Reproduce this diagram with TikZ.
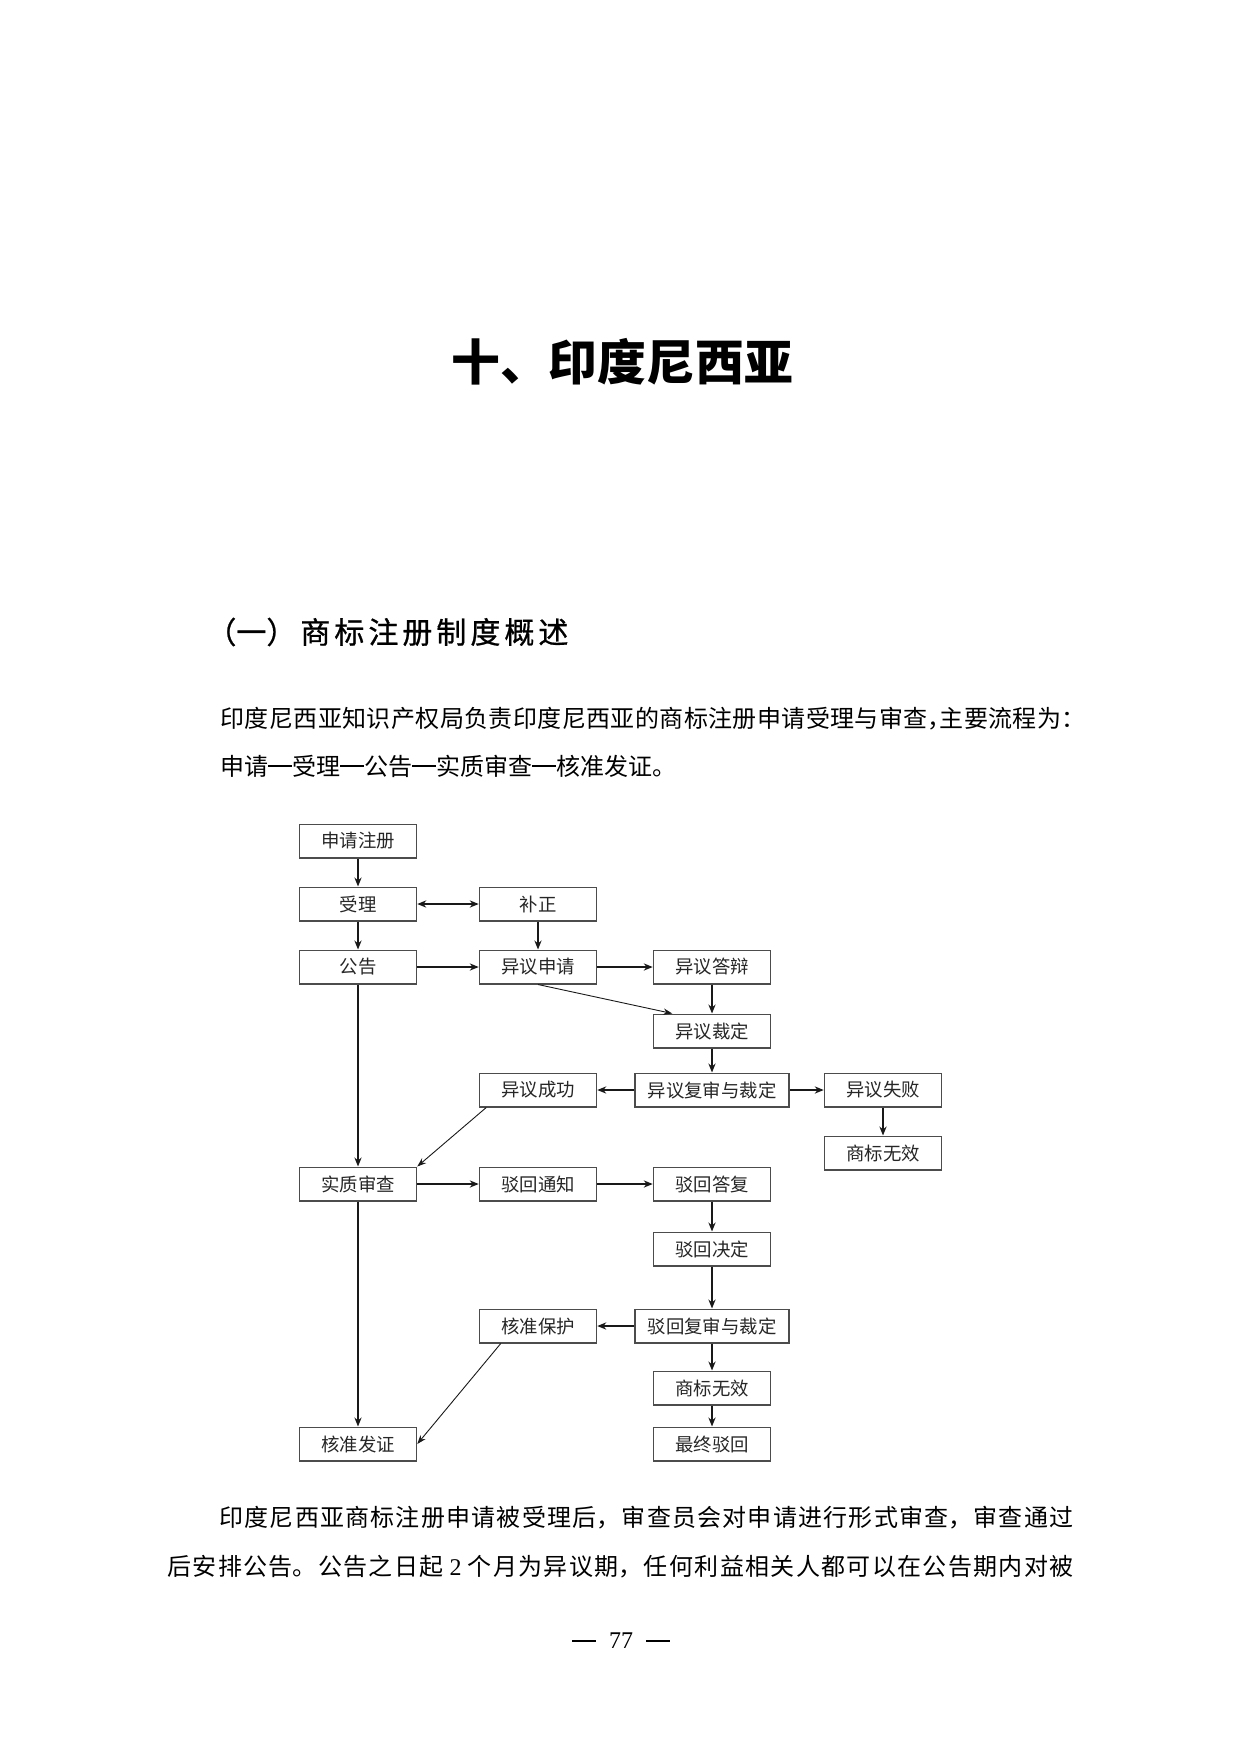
\documentclass[tikz,border=0pt]{standalone}
\usepackage{fontspec}
\setmainfont{Liberation Serif}
\newfontfamily\cjk{Noto Sans CJK SC}
\newfontfamily\headfont[FakeBold=0.8]{Noto Sans CJK SC}
\usetikzlibrary{arrows.meta, positioning}
\XeTeXlinebreaklocale "zh"
\XeTeXlinebreakskip=0pt plus 2pt
\newcommand{\halfpunct}[1]{\makebox[.5em][l]{#1}}
\newcommand{\bardash}{\rule[0.34em]{1em}{1.1pt}}
\newcommand{\fillline}{\parfillskip=0pt\rightskip=0pt\leftskip=0pt\relax}
\tikzstyle{block} = [rectangle, draw=black!70, line width=0.75pt, minimum width=58.5pt, minimum height=16.75pt, inner sep=0pt, text=black!85, font=\cjk\fontsize{9.2}{11}\selectfont]
\tikzstyle{wideblock} = [block, minimum width=77pt]
\tikzstyle{arrow} = [draw=black!90, -{Stealth[length=4.5pt, width=3.6pt]}, line width=0.95pt]
\tikzstyle{twoarrow} = [draw=black!90, {Stealth[length=4.5pt, width=3.6pt]}-{Stealth[length=4.5pt, width=3.6pt]}, line width=0.95pt]
\tikzstyle{thinarrow} = [draw=black!90, -{Stealth[length=4.5pt, width=3.2pt]}, line width=0.45pt]
\tikzstyle{textline} = [anchor=west, inner sep=0pt, align=justify, font=\cjk\fontsize{12}{14}\selectfont]

\begin{document}
\begin{tikzpicture}[x=0.5pt, y=-0.5pt]
  \useasboundingbox (0,0) rectangle (1242,1746);

  % Titulos
  \node (titulo) [font=\cjk\bfseries\fontsize{24.4}{28}\selectfont] at (622,362) {十、印度尼西亚};
  \node (seccion) [anchor=west, inner sep=0pt, text width=181pt, align=justify, font=\headfont\fontsize{15}{18}\selectfont] at (206,632) {\fillline （一）\hspace{2pt}商标注册制度概述\par};

  % Parrafo superior
  \node (linea1) [textline, text width=426.5pt] at (220,719) {\fillline 印度尼西亚知识产权局负责印度尼西亚的商标注册申请受理与审查\halfpunct{，}主要流程为\halfpunct{：}\par};
  \node (linea2) [textline] at (220,766) {申请\bardash 受理\bardash 公告\bardash 实质审查\bardash 核准发证。};

  % Bloques del flujo
  \node (sqzc) [block] at (358,841) {申请注册};
  \node (shouli) [block] at (358,904) {受理};
  \node (buzheng) [block] at (538,904) {补正};
  \node (gonggao) [block] at (358,967) {公告};
  \node (yysq) [block] at (538,967) {异议申请};
  \node (yydb) [block] at (712,967) {异议答辩};
  \node (yycd) [block] at (712,1031) {异议裁定};
  \node (yyfs) [wideblock] at (712,1090) {异议复审与裁定};
  \node (yycg) [block] at (538,1090) {异议成功};
  \node (yysb) [block] at (883,1090) {异议失败};
  \node (wxa) [block] at (883,1153) {商标无效};
  \node (szsc) [block] at (358,1184) {实质审查};
  \node (bhtz) [block] at (538,1184) {驳回通知};
  \node (bhdf) [block] at (712,1184) {驳回答复};
  \node (bhjd) [block] at (712,1249) {驳回决定};
  \node (bhfs) [wideblock] at (712,1326) {驳回复审与裁定};
  \node (hzbh) [block] at (538,1326) {核准保护};
  \node (wxb) [block] at (712,1388) {商标无效};
  \node (zzbh) [block] at (712,1444) {最终驳回};
  \node (hzfz) [block] at (358,1444) {核准发证};

  % Flechas
  \draw [arrow] (sqzc) -- (shouli);
  \draw [twoarrow] (shouli) -- (buzheng);
  \draw [arrow] (shouli) -- (gonggao);
  \draw [arrow] (buzheng) -- (yysq);
  \draw [arrow] (gonggao) -- (yysq);
  \draw [arrow] (yysq) -- (yydb);
  \draw [thinarrow] (yysq.south) -- ([xshift=9.75pt]yycd.north west);
  \draw [arrow] (yydb) -- (yycd);
  \draw [arrow] (yycd) -- (yyfs);
  \draw [arrow] (yyfs) -- (yycg);
  \draw [arrow] (yyfs) -- (yysb);
  \draw [arrow] (yysb) -- (wxa);
  \draw [thinarrow] ([xshift=3.75pt]yycg.south west) -- (szsc.north east);
  \draw [arrow] (gonggao) -- (szsc);
  \draw [arrow] (szsc) -- (bhtz);
  \draw [arrow] (bhtz) -- (bhdf);
  \draw [arrow] (bhdf) -- (bhjd);
  \draw [arrow] (bhjd) -- (bhfs);
  \draw [arrow] (bhfs) -- (hzbh);
  \draw [arrow] (bhfs) -- (wxb);
  \draw [arrow] (wxb) -- (zzbh);
  \draw [thinarrow] ([xshift=11pt]hzbh.south west) -- (hzfz.east);
  \draw [arrow] (szsc) -- (hzfz);

  % Parrafo inferior
  \node (linea3) [textline, text width=427pt] at (219,1518) {\fillline 印度尼西亚商标注册申请被受理后，审查员会对申请进行形式审查，审查通过\par};
  \node (linea4) [textline, text width=453pt] at (167,1567) {\fillline 后安排公告。公告之日起 {\rmfamily 2} 个月为异议期，任何利益相关人都可以在公告期内对被\par};

  % Pagina
  \node (pagina) [font=\rmfamily\fontsize{12}{14}\selectfont] at (621,1641) {\rule[0.3em]{12pt}{0.8pt}\hspace{6.5pt}77\hspace{6.5pt}\rule[0.3em]{12pt}{0.8pt}};
\end{tikzpicture}
\end{document}
